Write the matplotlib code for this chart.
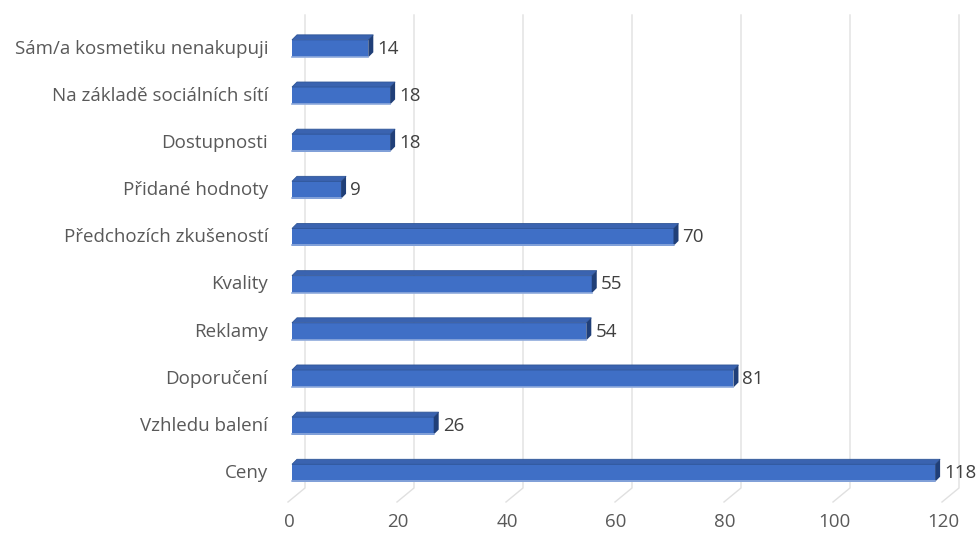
import matplotlib.pyplot as plt
import matplotlib.transforms as mtransforms
from matplotlib.patches import Polygon

plt.rcParams['font.family'] = ['Open Sans', 'DejaVu Sans']

categories = ['Ceny', 'Vzhledu balení', 'Doporučení', 'Reklamy', 'Kvality',
              'Předchozích zkušeností', 'Přidané hodnoty', 'Dostupnosti',
              'Na základě sociálních sítí', 'Sám/a kosmetiku nenakupuji']
values = [118, 26, 81, 54, 55, 70, 9, 18, 18, 14]
ticks = [0, 20, 40, 60, 80, 100, 120]

W, H = 980, 536
fig = plt.figure(figsize=(W / 100, H / 100), dpi=100)
ax = fig.add_axes([292 / W, (H - 496.6) / H, 654 / W, 471.6 / H])
ax.set_xlim(0, 120)
ax.set_ylim(-0.5, 9.5)
ax.axis('off')

ident = mtransforms.IdentityTransform()
grid_col = '#e0e0e0'
face_col = '#3f6fc6'
top_col = '#3a63b0'
side_col = '#203f78'
bar_h = 0.37
depth = 5  # pixels of bar depth (up and right)
fs = 13.5

# back wall gridlines with the slanted floor segment
for v in ticks:
    xb = ax.transData.transform((v, 0))[0] + 13
    ax.plot([xb, xb, xb - 17], [H - 15, H - 488, H - 502], color=grid_col,
            lw=1.0, transform=ident, clip_on=False, zorder=1)
    ax.annotate(str(v), xy=(v, -0.5), xytext=(-3, -25), textcoords='offset pixels',
                ha='center', va='center', fontsize=fs, color='#595959')

# 3D-looking bars
for i, v in enumerate(values):
    x0, yb = ax.transData.transform((0, i - bar_h / 2))
    x1, yt = ax.transData.transform((v, i + bar_h / 2))
    d = depth
    front = Polygon([(x0, yb), (x1, yb), (x1, yt), (x0, yt)], closed=True,
                    facecolor=face_col, edgecolor='none', transform=ident, zorder=3)
    top = Polygon([(x0, yt), (x1, yt), (x1 + d, yt + d), (x0 + d, yt + d)], closed=True,
                  facecolor=top_col, edgecolor='#2f5597', lw=0.6, transform=ident, zorder=3)
    side = Polygon([(x1, yb), (x1 + d, yb + d), (x1 + d, yt + d), (x1, yt)], closed=True,
                   facecolor=side_col, edgecolor='none', transform=ident, zorder=3)
    for p in (front, top, side):
        p.set_clip_on(False)
        ax.add_patch(p)
    ax.plot([x0, x1], [yb + 0.5, yb + 0.5], color='#8faadc', lw=1.2,
            transform=ident, clip_on=False, zorder=4)

    ax.annotate(str(v), xy=(v, i), xytext=(9, 0), textcoords='offset pixels',
                ha='left', va='center', fontsize=fs, color='#404040')
    ax.annotate(categories[i], xy=(0, i), xytext=(-24, 0), textcoords='offset pixels',
                ha='right', va='center', fontsize=fs, color='#595959')

fig.savefig('out.png', dpi=100)
